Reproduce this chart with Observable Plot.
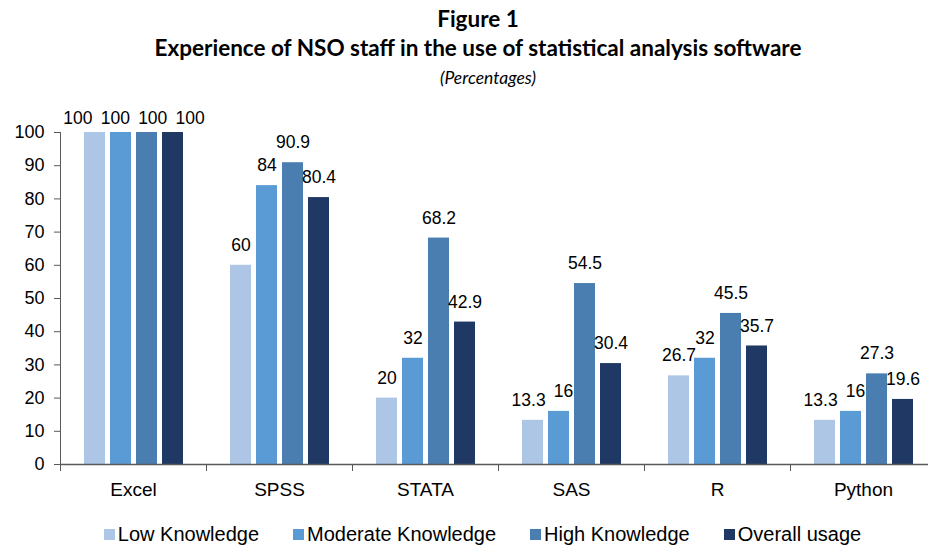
<!DOCTYPE html>
<html>
<head>
<meta charset="utf-8">
<script src="https://cdn.jsdelivr.net/npm/d3@7"></script>
<script src="https://cdn.jsdelivr.net/npm/@observablehq/plot@0.6"></script>
<style>
  html, body { margin: 0; padding: 0; background: #fff; overflow: hidden; }
  body { width: 928px; height: 548px; position: relative; }
  #title { height: 95px; padding-left: 28px; box-sizing: border-box; text-align: center; font-family: Lato, "Open Sans", sans-serif; color: #000; }
  #title .l1 { font-weight: bold; font-size: 22.5px; height: 29px; line-height: 29px; padding-top: 4px; }
  #title .l2 { font-weight: bold; font-size: 22.5px; height: 30px; line-height: 30px; }
  #title .l3 { font-style: italic; font-size: 17.5px; height: 30px; line-height: 30px; padding-left: 20px; }
  #chart svg { display: block; overflow: hidden; }
  #legend { position: absolute; top: 523px; left: 0; width: 928px; padding-left: 37px; box-sizing: border-box; display: flex; justify-content: center; gap: 34px; font-family: "Liberation Sans", Arial, sans-serif; font-size: 20px; color: #000; }
  #legend .item { display: flex; align-items: center; white-space: nowrap; }
  #legend .sw { width: 11px; height: 11px; margin-right: 3px; }
</style>
</head>
<body>
<div id="title">
  <div class="l1">Figure 1</div>
  <div class="l2">Experience of NSO staff in the use of statistical analysis software</div>
  <div class="l3">(Percentages)</div>
</div>
<div id="chart"></div>
<div id="legend"></div>
<script>
const categories = ["Excel", "SPSS", "STATA", "SAS", "R", "Python"];
const series = ["Low Knowledge", "Moderate Knowledge", "High Knowledge", "Overall usage"];
const lowKnowledge = [100, 60, 20, 13.3, 26.7, 13.3];
const moderateKnowledge = [100, 84, 32, 16, 32, 16];
const highKnowledge = [100, 90.9, 68.2, 54.5, 45.5, 27.3];
const overallUsage = [100, 80.4, 42.9, 30.4, 35.7, 19.6];
const colors = ["#aec6e6", "#5b9bd5", "#4a7eb0", "#203864"];
const yTicks = [0, 10, 20, 30, 40, 50, 60, 70, 80, 90, 100];

const seriesValues = [lowKnowledge, moderateKnowledge, highKnowledge, overallUsage];
const data = categories.flatMap((c, i) =>
  series.map((s, j) => ({category: c, series: s, value: seriesValues[j][i]}))
);

const axisColor = "#595959";
const plotHeight = 332;
const atTop = d => d.value >= 100;

const labelOpts = {fx: "category", x: "series", y: "value", text: d => String(d.value), fontSize: 17.5, fill: "#000"};

const chart = Plot.plot({
  width: 928,
  height: 420,
  marginTop: 37,
  marginBottom: 51,
  marginLeft: 60,
  marginRight: -8,
  style: {fontFamily: "'Liberation Sans', Arial, sans-serif", fontSize: "18px", color: "#000", background: "#fff"},
  fx: {domain: categories, padding: 0, label: null},
  x: {domain: series, axis: null, paddingInner: 0.21, paddingOuter: 0.86},
  y: {domain: [0, 100], axis: null},
  color: {domain: series, range: colors},
  marks: [
    Plot.barY(data, {fx: "category", x: "series", y: "value", fill: "series"}),
    Plot.text(data.filter(d => !atTop(d)), {...labelOpts, dy: -20}),
    Plot.text(data.filter(atTop), {...labelOpts, dy: -14}),
    Plot.ruleY([0], {stroke: axisColor, strokeWidth: 1.5}),
    Plot.frame({anchor: "left", facetAnchor: "left", stroke: axisColor, insetBottom: -6}),
    Plot.frame({anchor: "left", stroke: axisColor, insetTop: plotHeight, insetBottom: -6}),
    Plot.axisY({ticks: yTicks, tickSize: 6, tickPadding: 10, tickFormat: d => String(d), fontSize: 18, stroke: axisColor, fill: "#000", label: null}),
    Plot.axisFx({anchor: "bottom", tickSize: 0, tickPadding: 18, fontSize: 19, label: null, fill: "#000"})
  ]
});
document.getElementById("chart").appendChild(chart);

// push apart value labels that collide horizontally (like the spreadsheet's label placement)
function declutter(svg, gap) {
  const items = [...svg.querySelectorAll('g[aria-label="text"] text')].map(el => {
    const r = el.getBoundingClientRect();
    return {el, cx: (r.left + r.right) / 2, w: r.width, top: r.top + 3, bottom: r.bottom - 3, shift: 0};
  }).sort((a, b) => a.cx - b.cx);
  for (let pass = 0; pass < 60; pass++) {
    let moved = false;
    for (let i = 0; i < items.length - 1; i++) {
      const a = items[i], b = items[i + 1];
      if (a.bottom <= b.top || b.bottom <= a.top) continue;
      const need = (a.w + b.w) / 2 + gap - ((b.cx + b.shift) - (a.cx + a.shift));
      if (need > 0.1) { a.shift -= need / 2; b.shift += need / 2; moved = true; }
    }
    if (!moved) break;
  }
  items.forEach(it => {
    if (it.shift) {
      const t = it.el.getAttribute("transform") || "";
      it.el.setAttribute("transform", (t + ` translate(${it.shift.toFixed(2)},0)`).trim());
    }
  });
}
declutter(chart, 8);

const legend = document.getElementById("legend");
series.forEach((s, i) => {
  const item = document.createElement("div");
  item.className = "item";
  const sw = document.createElement("span");
  sw.className = "sw";
  sw.style.background = colors[i];
  const label = document.createElement("span");
  label.textContent = s;
  item.appendChild(sw);
  item.appendChild(label);
  legend.appendChild(item);
});
</script>
</body>
</html>
